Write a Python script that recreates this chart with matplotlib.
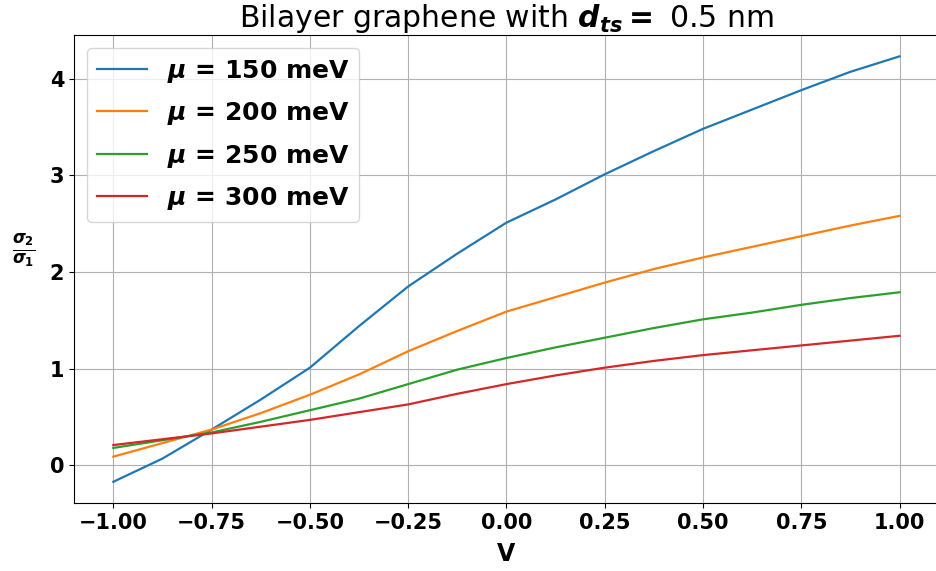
import numpy as np
import matplotlib
matplotlib.use('Agg')
import matplotlib.pyplot as plt

# bias voltage V
v = [-1.0, -0.875, -0.75, -0.625, -0.5, -0.375, -0.25, -0.125, 0.0,
     0.125, 0.25, 0.375, 0.5, 0.625, 0.75, 0.875, 1.0]

# sigma2/sigma1 for each chemical potential
mu_150 = [-0.17, 0.07, 0.37, 0.68, 1.01, 1.44, 1.85, 2.19, 2.51,
          2.75, 3.01, 3.25, 3.48, 3.68, 3.88, 4.07, 4.23]
mu_200 = [0.09, 0.23, 0.37, 0.54, 0.73, 0.94, 1.18, 1.39, 1.59,
          1.74, 1.89, 2.03, 2.15, 2.26, 2.37, 2.48, 2.58]
mu_250 = [0.18, 0.26, 0.34, 0.45, 0.57, 0.69, 0.84, 0.99, 1.11,
          1.22, 1.32, 1.42, 1.51, 1.58, 1.66, 1.73, 1.79]
mu_300 = [0.21, 0.27, 0.33, 0.40, 0.47, 0.55, 0.63, 0.74, 0.84,
          0.93, 1.01, 1.08, 1.14, 1.19, 1.24, 1.29, 1.34]

labels = ['150', '200', '250', '300']

# bold italic math, like the original
plt.rcParams['mathtext.fontset'] = 'custom'
plt.rcParams['mathtext.it'] = 'DejaVu Sans:italic:bold'
plt.rcParams['mathtext.rm'] = 'DejaVu Sans:bold'
plt.rcParams['mathtext.bf'] = 'DejaVu Sans:bold'

fig = plt.figure(figsize=(9.37, 5.71), dpi=100)
ax = fig.add_axes([0.079, 0.119, 0.923, 0.8196])

for ys, lab in zip([mu_150, mu_200, mu_250, mu_300], labels):
  ax.plot(v, ys, lw=1.6, label=r'$\mu$ = %s meV' % lab)

ax.grid(True)
ax.set_title(r'Bilayer graphene with $d_{ts} =$ 0.5 nm', fontsize=21.5)
ax.set_xlabel('V', fontsize=17, fontweight='bold', labelpad=7)
ax.set_ylabel(r'$\frac{\sigma_2}{\sigma_1}$', fontsize=17, rotation=0)
ax.yaxis.set_label_coords(-0.058, 0.5)
for t in ax.get_xticklabels() + ax.get_yticklabels():
  t.set_fontweight('bold')
  t.set_fontsize(15)
ax.legend(loc='upper left', prop={'weight': 'bold', 'size': 18},
          labelspacing=0.62)

fig.savefig('out.png', dpi=100)
